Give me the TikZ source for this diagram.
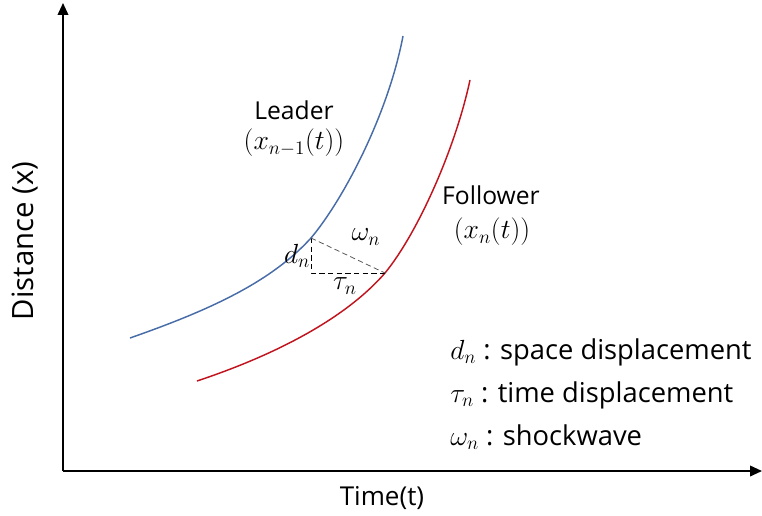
\documentclass[tikz,border=0pt]{standalone}
\usepackage{fontspec}
\setmainfont{Open Sans}
\usetikzlibrary{arrows.meta}
\definecolor{leadblue}{RGB}{72,108,168}
\definecolor{follred}{RGB}{192,20,30}
\begin{document}
\begin{tikzpicture}[x=0.75pt,y=-0.75pt,
  axis/.style={line width=1.2pt,-{Triangle[length=9pt,width=8pt]}},
  curve/.style={line width=1.1pt},
  tri/.style={line width=0.6pt,dash pattern=on 4pt off 2.5pt},
  lab/.style={font=\fontsize{18.5}{22}\selectfont,inner sep=0pt},
  mlab/.style={font=\fontsize{21.5}{24}\selectfont,inner sep=0pt},
  leg/.style={font=\fontsize{20.5}{24}\selectfont,inner sep=0pt,anchor=west}]
\useasboundingbox (0,0) rectangle (762,516);
% axes
\coordinate (O) at (63,471);
\coordinate (ytop) at (63,3);
\coordinate (xend) at (762,471);
\draw[axis] (O) -- (ytop);
\draw[axis] (O) -- (xend);
% triangle vertices
\coordinate (A) at (311,238);
\coordinate (B) at (311,273);
\coordinate (C) at (385,273);
% curves
\coordinate (bs) at (130,338);
\coordinate (be) at (403,36);
\coordinate (rs) at (197,381);
\coordinate (re) at (470,80);
\draw[curve,leadblue] (bs) .. controls (210,310) and (271,282) .. (A)
   .. controls (343,200) and (388,115) .. (be);
\draw[curve,follred] (rs) .. controls (275,355) and (345,319) .. (C)
   .. controls (417,234) and (455,150) .. (re);
\draw[tri] (A) -- (B) -- (C);
\draw[tri,black!65] (A) -- (C);
% labels
\node[lab] (leader) at (294,110) {Leader};
\node[mlab] (leaderx) at (294,143) {$(x_{n-1}(t))$};
\node[lab] (follower) at (491,195) {Follower};
\node[mlab] (followerx) at (492,232) {$(x_n(t))$};
\node[font=\fontsize{20}{22}\selectfont,inner sep=0pt] (dn) at (297,256) {$d_n$};
\node[font=\fontsize{20}{22}\selectfont,inner sep=0pt] (wn) at (366,237) {$\omega_n$};
\node[font=\fontsize{20}{22}\selectfont,inner sep=0pt] (tn) at (345,286) {$\tau_n$};
% legend
\node[leg] (l1) at (450,352) {$d_n$ : space displacement};
\node[leg] (l2) at (450,395) {$\tau_n$ : time displacement};
\node[leg] (l3) at (450,437) {$\omega_n$ : shockwave};
% axis labels
\node[font=\fontsize{19.5}{22}\selectfont,inner sep=0pt] (tlab) at (382,498) {Time(t)};
\node[font=\fontsize{22}{26}\selectfont,inner sep=0pt,rotate=90] (dlab) at (25,241) {Distance (x)};
\end{tikzpicture}
\end{document}
